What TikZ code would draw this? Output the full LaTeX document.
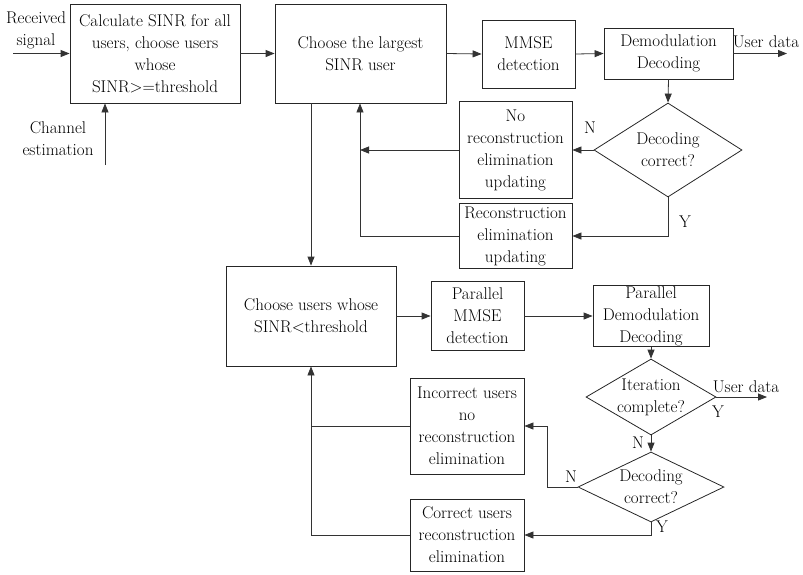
\documentclass[tikz,border=0pt]{standalone}
\usepackage{fontspec}
\usetikzlibrary{arrows.meta,shapes.geometric}
\begin{document}
\begin{tikzpicture}[x=1pt,y=-1pt,
  font=\fontsize{17}{22}\selectfont,
  box/.style 2 args={draw=black!85, line width=0.8pt, align=center, inner sep=1pt, minimum width=#1pt, minimum height=#2pt},
  dia/.style 2 args={draw=black!85, line width=0.8pt, diamond, inner sep=0pt, minimum width=#1pt, minimum height=#2pt},
  conn/.style={draw=black!80, line width=0.8pt},
  arr/.style={conn, -{Triangle[length=9pt,width=7pt]}},
  lbl/.style={inner sep=0pt, align=center}
]
\useasboundingbox (0,0) rectangle (803,574);

% boxes
\node[box={170}{99}] (b1) at (155,53.5) {Calculate SINR for all\\users, choose users\\whose\\SINR>=threshold};
\node[box={171}{99}] (b2) at (360.5,53.5) {Choose the largest\\SINR user};
\node[box={93}{68}] (mmse) at (528.5,54) {MMSE\\detection};
\node[box={129}{51}] (demod) at (668.5,53.5) {Demodulation\\Decoding};
\node[dia={148}{94}, label={[lbl]center:Decoding\\correct?}] (d1) at (668,150) {};
\node[box={113}{97}] (norec) at (515.5,150) {No\\reconstruction\\elimination\\updating};
\node[box={113}{65}] (rec) at (515.5,236) {Reconstruction\\elimination\\updating};

\node[box={170}{100}] (b5) at (311,316) {Choose users whose\\SINR<threshold};
\node[box={93}{69}] (pmmse) at (477.5,316) {Parallel\\MMSE\\detection};
\node[box={116}{61}] (pdemod) at (651,316) {Parallel\\Demodulation\\Decoding};
\node[dia={130}{76}, label={[lbl]center:Iteration\\complete?}] (d2) at (651,397) {};
\node[dia={146}{70}, label={[lbl]center:Decoding\\correct?}] (d3) at (651,487) {};
\node[box={114}{96}] (inc) at (467,426) {Incorrect users\\no\\reconstruction\\elimination};
\node[box={114}{72}] (cor) at (467,535) {Correct users\\reconstruction\\elimination};

% free texts
\node[lbl] (rs) at (36,30) {Received\\signal};
\node[lbl] (ce) at (58,139) {Channel\\estimation};
\node[lbl] (ud1) at (766,42) {User data};
\node[lbl] (ud2) at (746,387) {User data};
\node[lbl] (n1) at (590,128) {N};
\node[lbl] (y1) at (685,222) {Y};
\node[lbl] (y2) at (718,412) {Y};
\node[lbl] (n2) at (638,443) {N};
\node[lbl] (n3) at (571,477) {N};
\node[lbl] (y3) at (662,527) {Y};

% coordinates
\coordinate (rsS) at (13,53.5);
\coordinate (ceS) at (105,165);
\coordinate (ud1E) at (787,53.5);
\coordinate (ud2E) at (767,397);
\coordinate (vr) at (360,236);
\coordinate (nb) at (547,487);

% connectors
\draw[arr] (rsS) -- (b1.west);
\draw[arr] (ceS) -- (ceS |- b1.south);
\draw[arr] (b1.east) -- (b2.west);
\draw[arr] (b2.east) -- (mmse.west);
\draw[arr] (mmse.east) -- (demod.west);
\draw[arr] (demod.east) -- (ud1E);
\draw[arr] (demod.south) -- (d1.north);
\draw[arr] (d1.west) -- (d1.west -| norec.east);
\draw[arr] (d1.south) |- (rec.east);
\draw[arr] (norec.west) -- (norec.west -| vr);
\draw[arr] (rec.west) -- (vr) -- (vr |- b2.south);
\draw[arr] (b2.south -| b5.north) -- (b5.north);

\draw[arr] (b5.east) -- (pmmse.west);
\draw[arr] (pmmse.east) -- (pmmse.east -| pdemod.west);
\draw[arr] (pdemod.south) -- (d2.north);
\draw[arr] (d2.east) -- (ud2E);
\draw[arr] (d2.south) -- (d3.north);
\draw[arr] (d3.west) -- (nb) |- (inc.east);
\draw[arr] (d3.south) |- (cor.east);
\draw[conn] (inc.west) -- (inc.west -| b5.south);
\draw[arr] (cor.west) -| (b5.south);
\end{tikzpicture}
\end{document}
